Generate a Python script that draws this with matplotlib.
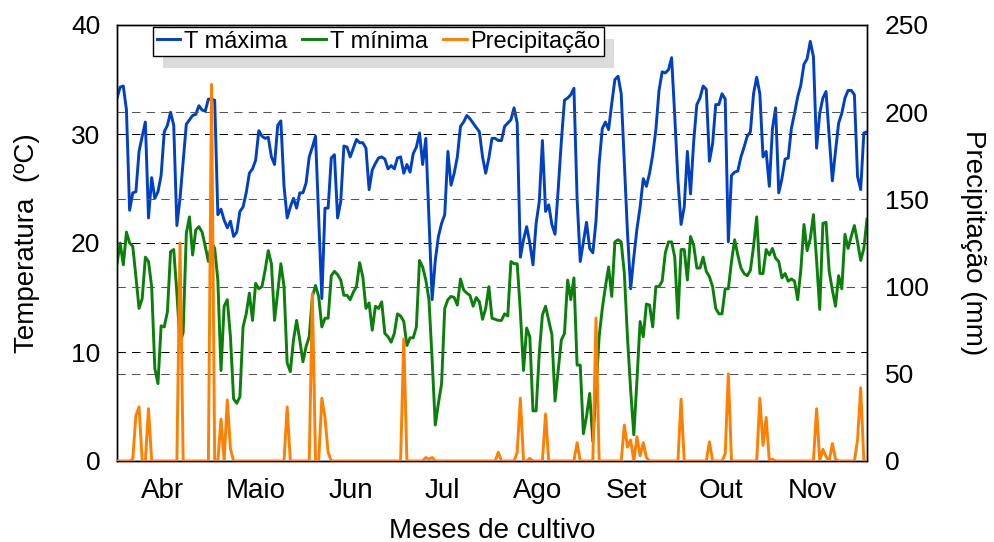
import numpy as np
import matplotlib
matplotlib.use("Agg")
import matplotlib.pyplot as plt

plt.rcParams['font.family'] = ['Liberation Sans', 'DejaVu Sans']

# ---------------- data ----------------
t_max = [
    33.3, 34.3, 34.4, 32.2, 23.0, 24.6, 24.7, 28.4, 29.8, 31.1,
    22.3, 26.0, 24.1, 24.7, 26.2, 30.2, 30.8, 32.0, 30.8, 21.6,
    24.1, 27.5, 30.9, 31.3, 31.7, 31.8, 32.6, 32.2, 32.1, 33.2,
    33.2, 33.1, 22.6, 23.1, 22.1, 21.4, 22.0, 20.6, 21.0, 22.9,
    23.3, 24.6, 26.4, 26.8, 27.6, 30.3, 29.8, 29.6, 29.7, 27.9,
    27.2, 30.8, 31.2, 25.2, 22.3, 23.3, 24.1, 23.2, 24.6, 24.6,
    25.5,
    27.9, 28.8, 29.8, 22.4, 14.9, 23.2, 23.2, 27.8, 28.1, 22.3,
    23.8, 28.9, 28.8, 27.9, 28.7, 29.5, 29.2, 29.2, 28.7, 24.9,
    26.7, 27.3, 27.8, 27.9, 27.7, 26.8, 27.1, 26.8, 27.8, 27.9,
    26.4, 27.2, 26.5, 28.2, 28.8, 30.1, 27.2, 29.6, 22.1, 14.8,
    18.4, 20.6, 21.8, 22.6, 28.4, 25.3, 26.4, 27.9, 30.7, 31.1,
    31.7, 31.4, 31.0, 30.6, 30.2, 27.9, 26.4, 27.8, 29.6,
    29.6, 29.4, 29.4, 30.7, 31.0, 31.3, 32.4, 31.0, 18.7, 20.3,
    21.5, 20.0, 18.0, 21.8, 23.8, 29.4, 22.9, 23.5, 21.7, 20.8,
    24.9, 29.3, 33.1, 33.3, 33.6, 34.2, 24.1, 18.3, 20.1, 21.9,
    19.5, 19.1, 22.0, 27.3, 30.5, 31.1, 30.4, 32.8, 35.0, 35.3,
    33.7, 27.3, 20.9, 15.8, 18.7, 21.3, 23.3, 25.9, 25.2, 26.4,
    28.1, 30.4, 34.0, 35.7, 35.6, 35.9, 37.0, 31.6, 25.8, 21.7,
    23.3, 28.4, 24.5, 29.3, 32.7, 33.3, 34.4, 34.1, 27.5, 29.1,
    32.7, 32.7, 33.7, 33.2, 20.1, 26.2, 26.5, 26.6, 27.9, 28.8,
    29.8, 30.2, 33.7, 35.2, 33.7, 27.9, 28.4, 25.2, 30.5, 32.4,
    24.6, 25.9, 27.7, 27.8, 30.5, 31.9, 33.4, 34.5, 36.4, 36.9,
    38.5, 37.1, 28.7, 31.9, 33.3, 33.9, 29.8, 25.7, 28.4, 31.0,
    31.9, 33.3, 34.0, 34.0, 33.6, 26.1, 24.9, 30.1, 30.2,
]

t_min = [
    18.1, 20.0, 18.0, 21.0, 20.0, 19.7, 16.9, 14.0, 14.9, 18.7,
    18.3, 16.0, 8.5, 7.1, 12.4, 12.3, 13.7, 19.2, 19.4, 15.4,
    10.8, 11.8, 20.9, 22.4, 18.9, 21.2, 21.5, 21.0, 19.7, 18.3,
    20.1, 19.5, 16.6, 8.3, 14.2, 14.8, 11.4, 5.7, 5.3, 5.9,
    12.3, 13.5, 15.4, 12.9, 16.3, 15.8, 16.0, 17.5, 19.3, 18.1,
    12.9, 15.5, 18.1, 16.0, 9.0, 8.2, 11.1, 12.9, 11.1, 9.1,
    10.5,
    11.4, 15.1, 16.1, 15.1, 12.3, 13.1, 13.1, 17.0, 17.4, 17.1,
    16.6, 15.2, 15.2, 14.8, 15.5, 16.0, 18.2, 16.9, 14.0, 14.5,
    12.0, 14.2, 14.0, 14.6, 11.7, 11.4, 10.9, 11.7, 13.5, 13.3,
    12.8, 10.6, 11.3, 11.3, 12.3, 18.4, 17.8, 16.6, 14.8, 9.3,
    3.3, 5.3, 7.1, 14.0, 14.8, 15.1, 15.0, 14.3, 16.7, 15.7,
    15.4, 15.2, 14.2, 15.0, 14.6, 13.0, 14.0, 16.0, 13.1,
    13.0, 12.9, 12.9, 13.5, 13.3, 18.3, 18.1, 18.1, 13.7, 8.3,
    12.2, 11.4, 4.6, 4.6, 9.9, 13.4, 14.2, 12.9, 11.6, 5.5,
    8.3, 11.1, 11.7, 16.6, 14.8, 16.8, 8.8, 8.8, 2.5, 4.1,
    6.2, 1.8, 6.5, 11.4, 14.0, 16.0, 17.8, 15.1, 20.1, 20.3,
    20.1, 17.2, 11.3, 6.5, 2.4, 7.4, 12.8, 11.4, 14.4, 14.3,
    12.3, 16.0, 16.0, 16.5, 19.1, 20.1, 20.1, 18.7, 13.1, 19.4,
    19.4, 16.6, 20.6, 19.8, 17.7, 17.7, 18.7, 17.4, 16.9, 16.0,
    14.0, 13.5, 13.5, 15.8, 15.8, 18.3, 20.3, 18.9, 17.7, 17.2,
    17.0, 17.5, 19.7, 22.4, 17.2, 17.2, 19.4, 18.9, 19.5, 18.6,
    18.3, 16.8, 17.2, 16.5, 16.7, 16.5, 14.8, 17.5, 21.7, 19.3,
    20.4, 22.6, 18.4, 13.9, 21.8, 21.9, 17.4, 15.7, 14.2, 17.0,
    15.8, 20.8, 19.5, 20.6, 21.6, 20.1, 18.4, 19.5, 22.2,
]

precip = [
    0, 0, 0, 0, 0, 1, 26, 31, 0, 0,
    30, 0, 0, 0, 0, 0, 0, 0, 0, 0,
    125, 0, 0, 0, 0, 0, 0, 0, 0, 0,
    216, 0, 0, 24, 0, 35, 7, 0, 0, 0,
    0, 0, 0, 0, 0, 0, 0, 0, 0, 0,
    0, 0, 0, 0, 31, 0, 0, 0, 0, 0,
    0, 0, 96, 0, 0, 36, 25, 5, 0, 0,
    0, 0, 0, 0, 0, 0, 0, 0, 0, 0,
    0, 0, 0, 0, 0, 0, 0, 0, 0, 0,
    0, 70, 0, 0, 0, 0, 0, 0, 2, 1,
    2, 0, 0, 0, 0, 0, 0, 0, 0, 0,
    0, 0, 0, 0, 0, 0, 0, 0, 0, 0,
    0, 5, 0, 0, 0, 0, 0, 5, 36, 0,
    0, 1.5, 0, 0, 0, 0, 27, 0, 0, 0,
    0, 0, 0, 0, 0, 0, 10.5, 0, 0, 0,
    0, 0, 82, 0, 0, 0, 0, 0, 0, 0,
    0, 20.6, 8, 12, 0, 14, 3, 10.5, 2, 0,
    0, 0, 0, 0, 0, 0, 0, 0, 0, 35.5,
    0, 0, 0, 0, 0, 0, 0, 0, 11, 0,
    0, 0, 0, 4, 50, 0, 0, 0, 0, 0,
    0, 0, 0, 0, 36, 9, 25, 0, 1, 0,
    0, 0, 0, 0, 0, 0, 0, 0, 0, 0,
    0, 0, 30, 0, 6.7, 2.5, 0, 10, 1, 0,
    0, 0, 0, 0, 0, 12, 42, 0, 0,
]

months = ['Abr', 'Maio', 'Jun', 'Jul', 'Ago', 'Set', 'Out', 'Nov']
month_centre_day = [14.3, 44.1, 74.2, 103.1, 133.6, 161.8, 191.7, 220.8]

left_ticks = [0, 10, 20, 30, 40]
right_ticks = [0, 50, 100, 150, 200, 250]

# ---------------- figure ----------------
W, H = 994, 542
fig = plt.figure(figsize=(W / 100, H / 100), dpi=100)
ax1 = fig.add_axes([117 / W, 81 / H, 750 / W, 436 / H])
ax2 = ax1.twinx()

days = np.arange(len(t_max))

c_max = '#0040c4'
c_min = '#0a7f0a'
c_pre = '#ff8000'

l1, = ax1.plot(days, t_max, color=c_max, lw=2.1, label='T máxima', zorder=3)
l2, = ax1.plot(days, t_min, color=c_min, lw=2.1, label='T mínima', zorder=3)
l3, = ax2.plot(np.arange(len(precip)), precip, color=c_pre, lw=2.1,
               label='Precipitação', zorder=3)

ax1.set_xlim(0, len(t_max) - 1)
ax1.set_ylim(0, 40)
ax2.set_ylim(0, 250)

ax1.set_yticks(left_ticks)
ax2.set_yticks(right_ticks)
ax1.set_xticks(month_centre_day)
ax1.set_xticklabels(months)

ax1.grid(axis='y', color='black', linestyle=(0, (8, 6)), linewidth=0.75)
ax1.grid(axis='x', visible=False)
ax2.grid(axis='y', color='#555555', linestyle=(0, (8, 6)), linewidth=0.75)

ax1.tick_params(axis='y', length=0, pad=12, labelsize=19)
ax1.tick_params(axis='x', length=0, pad=12, labelsize=20)
ax2.tick_params(axis='y', length=0, pad=13, labelsize=19)

for ax in (ax1, ax2):
    for s in ax.spines.values():
        s.set_color('black')
        s.set_linewidth(1.0)

ax1.set_ylabel('Temperatura  (ºC)', fontsize=20, labelpad=22)
ax1.set_xlabel('Meses de cultivo', fontsize=20, labelpad=10)
ax2.set_ylabel('Precipitação (mm)', fontsize=20, rotation=270,
               va='bottom', labelpad=22)

leg = ax2.legend(handles=[l1, l2, l3], loc='upper left', ncol=3,
                 bbox_to_anchor=(0.048, 0.995), borderaxespad=0,
                 fontsize=17, frameon=True, fancybox=False, framealpha=1,
                 edgecolor='black', borderpad=0.15, handlelength=1.0,
                 handletextpad=0.15, columnspacing=0.65,
                 shadow={'ox': 7.2, 'oy': -8.6, 'facecolor': '#dcdcdc',
                         'edgecolor': 'none', 'alpha': 1})
leg.get_frame().set_linewidth(1.0)

fig.savefig('out.png', dpi=100)
